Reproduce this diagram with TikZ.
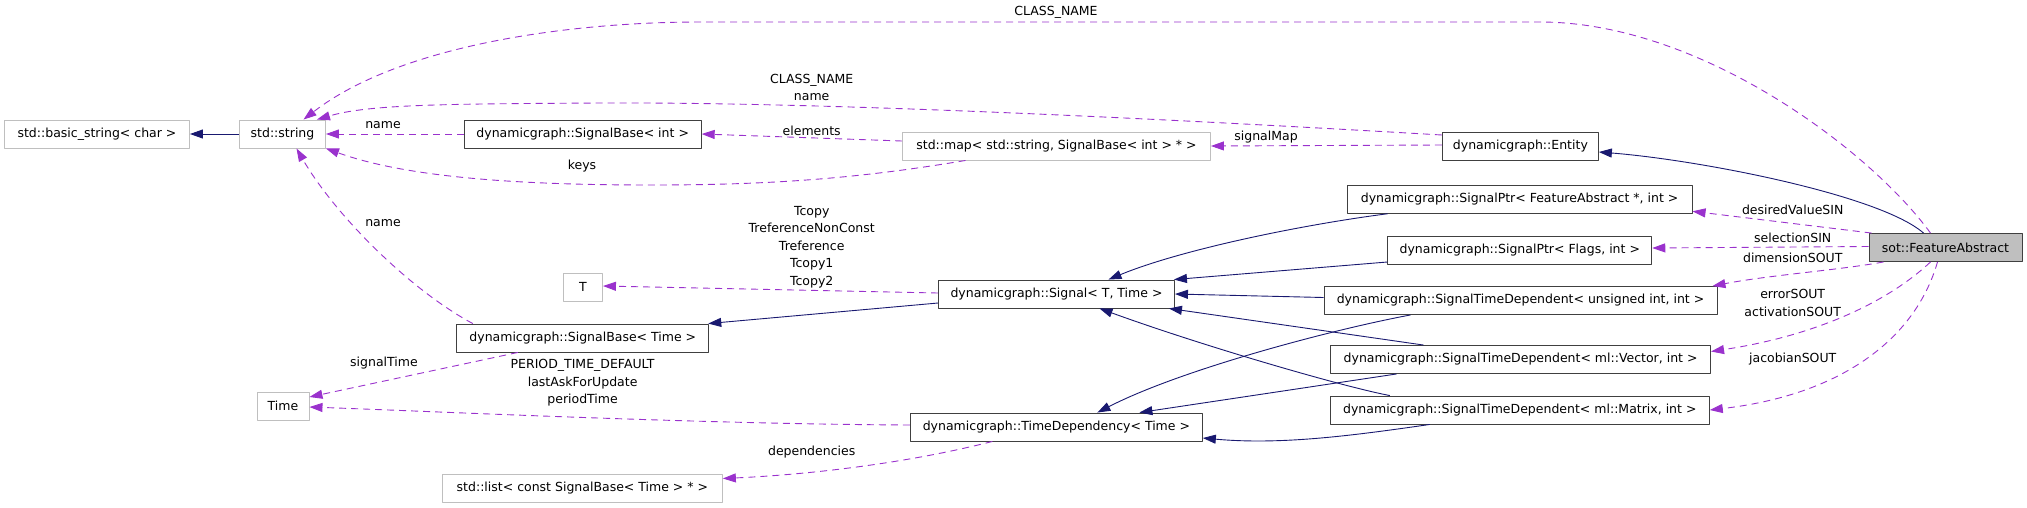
\documentclass[tikz,border=0pt]{standalone}
\usepackage{fontspec}
\setmainfont{DejaVu Sans}
\usetikzlibrary{arrows.meta}
\definecolor{edgeblue}{HTML}{191970}
\definecolor{edgepurple}{HTML}{9A32CD}
\definecolor{boxgray}{HTML}{BFBFBF}
\begin{document}
\begin{tikzpicture}[x=1pt,y=-1pt,line join=round,
		font=\fontsize{12.5}{17.4}\selectfont,
		cls/.style={draw=black!75,line width=0.9pt,minimum height=28pt,inner sep=0pt},
		extcls/.style={cls,draw=boxgray},
		inherit/.style={draw=edgeblue,line width=0.9pt,-{Triangle[length=13pt,width=9pt]}},
		member/.style={draw=edgepurple,line width=0.9pt,dash pattern=on 7pt off 5pt,-{Triangle[length=13pt,width=9pt]}},
		lbl/.style={align=center,inner sep=0pt}]
	\useasboundingbox (0,0) rectangle (2027,507);
	% classes
	\node[extcls,minimum width=185pt] (bstr) at (97,134) {std::basic\_string< char >};
	\node[extcls,minimum width=86pt] (str) at (282.5,134) {std::string};
	\node[cls,minimum width=237pt] (sbint) at (582.7,134) {dynamicgraph::SignalBase< int >};
	\node[extcls,minimum width=308pt] (smap) at (1056.5,146) {std::map< std::string, SignalBase< int > * >};
	\node[cls,minimum width=156pt] (entity) at (1520.4,146) {dynamicgraph::Entity};
	\node[cls,minimum width=345pt] (sptrfa) at (1519.6,199.3) {dynamicgraph::SignalPtr< FeatureAbstract *, int >};
	\node[cls,minimum width=264pt] (sptrflags) at (1519.8,250) {dynamicgraph::SignalPtr< Flags, int >};
	\node[cls,fill=boxgray,minimum width=153pt] (feat) at (1945.5,247.5) {sot::FeatureAbstract};
	\node[extcls,minimum width=39pt] (tpar) at (583,287) {T};
	\node[cls,minimum width=236pt] (signal) at (1056.5,294) {dynamicgraph::Signal< T, Time >};
	\node[cls,minimum width=393pt] (stdu) at (1520.5,300.5) {dynamicgraph::SignalTimeDependent< unsigned int, int >};
	\node[cls,minimum width=252pt] (sbtime) at (582.8,338) {dynamicgraph::SignalBase< Time >};
	\node[cls,minimum width=380pt] (stdv) at (1520.6,359.5) {dynamicgraph::SignalTimeDependent< ml::Vector, int >};
	\node[extcls,minimum width=52pt] (tim) at (283,406) {Time};
	\node[cls,minimum width=292pt] (tdep) at (1056.4,427) {dynamicgraph::TimeDependency< Time >};
	\node[cls,minimum width=379pt] (stdm) at (1519.8,410) {dynamicgraph::SignalTimeDependent< ml::Matrix, int >};
	\node[extcls,minimum width=280pt] (slist) at (582.4,488.5) {std::list< const SignalBase< Time > * >};
	% inheritance
	\draw[inherit] (str.west) -- (bstr.east);
	\draw[inherit] ([xshift=-22pt]feat.north) .. controls (1880,195) and (1700,160) .. ([yshift=-6pt]entity.east);
	\draw[inherit] ([xshift=-132pt]sptrfa.south) .. controls (1300,225) and (1180,250) .. ([xshift=52pt]signal.north);
	\draw[inherit] ([yshift=-12pt]sptrflags.west) -- ([xshift=-1pt]signal.north east);
	\draw[inherit] ([yshift=3pt]stdu.west) -- (signal.east);
	\draw[inherit] ([xshift=-97pt]stdv.north) -- ([xshift=-6pt]signal.south east);
	\draw[inherit] ([xshift=-130pt]stdm.north) .. controls (1340,386) and (1200,345) .. ([xshift=43pt]signal.south);
	\draw[inherit] ([yshift=-9pt]signal.west) -- ([xshift=-1pt]sbtime.north east);
	\draw[inherit] ([xshift=-110pt]stdu.south) .. controls (1330,330) and (1180,370) .. ([xshift=41pt]tdep.north);
	\draw[inherit] ([xshift=-124pt]stdv.south) -- ([xshift=83pt]tdep.north);
	\draw[inherit] ([xshift=-90pt]stdm.south) .. controls (1350,436) and (1280,445) .. ([yshift=-11pt]tdep.east);
	% members
	\draw[member] ([xshift=-15pt]feat.north) .. controls (1870,150) and (1700,22) .. (1540,22) -- (700,22)
		.. controls (570,22) and (400,45) .. ([xshift=21pt]str.north);
	\draw[member] ([yshift=11pt]entity.west) .. controls (1100,115) and (800,102) .. (600,103)
		.. controls (450,104) and (370,104) .. ([xshift=-9pt]str.north east);
	\draw[member] ([yshift=1pt]entity.west) -- (smap.east);
	\draw[member] ([yshift=5pt]smap.west) -- (sbint.east);
	\draw[member] ([xshift=-91pt]smap.south) .. controls (850,180) and (760,185) .. (650,185)
		.. controls (500,185) and (400,175) .. (str.south east);
	\draw[member] (sbint.west) -- (str.east);
	\draw[member] ([xshift=-110pt]sbtime.north) .. controls (410,290) and (335,215) .. ([xshift=14pt]str.south);
	\draw[member] ([xshift=-65pt]sbtime.south) -- ([yshift=9pt]tim.east);
	\draw[member] ([yshift=2pt]tdep.west) .. controls (700,424) and (450,412) .. ([yshift=-1pt]tim.east);
	\draw[member] ([xshift=-64pt]tdep.south) .. controls (900,465) and (800,475) .. ([yshift=10pt]slist.east);
	\draw[member] ([yshift=1pt]signal.west) -- ([yshift=1pt]tpar.east);
	\draw[member] ([xshift=3pt]feat.north west) -- ([yshift=-12pt]sptrfa.east);
	\draw[member] ([yshift=1pt]feat.west) -- ([yshift=2pt]sptrflags.east);
	\draw[member] ([xshift=-62pt]feat.south) .. controls (1840,270) and (1770,275) .. ([xshift=-5pt]stdu.north east);
	\draw[member] ([xshift=-15pt]feat.south) .. controls (1890,300) and (1820,335) .. ([yshift=8pt]stdv.east);
	\draw[member] ([xshift=-8pt]feat.south) .. controls (1915,340) and (1840,395) .. (stdm.east);
	% labels
	\node[lbl] (lclass) at (1056,12.7) {CLASS\_NAME};
	\node[lbl] (lentname) at (811.7,87.5) {CLASS\_NAME\\name};
	\node[lbl] (lsbname) at (383,125) {name};
	\node[lbl] (lelem) at (811.7,130.7) {elements};
	\node[lbl] (lsigmap) at (1266,136.7) {signalMap};
	\node[lbl] (lkeys) at (582,166) {keys};
	\node[lbl] (lsbtname) at (383,222.7) {name};
	\node[lbl] (ltcopy) at (811.7,247) {Tcopy\\TreferenceNonConst\\Treference\\Tcopy1\\Tcopy2};
	\node[lbl] (ldesired) at (1792.7,210) {desiredValueSIN};
	\node[lbl] (lselect) at (1792.7,237.7) {selectionSIN};
	\node[lbl] (ldim) at (1792.7,258.3) {dimensionSOUT};
	\node[lbl] (lerror) at (1792.7,303) {errorSOUT\\activationSOUT};
	\node[lbl] (ljac) at (1792.7,359) {jacobianSOUT};
	\node[lbl] (lsigtime) at (384,362.7) {signalTime};
	\node[lbl] (lperiod) at (582.6,383) {PERIOD\_TIME\_DEFAULT\\lastAskForUpdate\\periodTime};
	\node[lbl] (ldeps) at (811.7,452) {dependencies};
\end{tikzpicture}
\end{document}
